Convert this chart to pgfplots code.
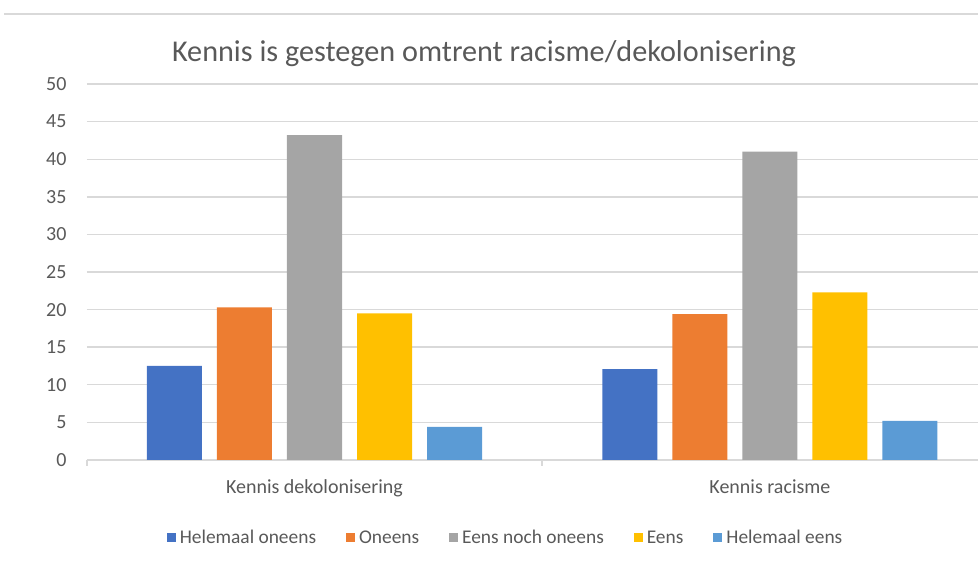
\documentclass[border=0pt]{standalone}
\usepackage{pgfplots}
\pgfplotsset{compat=1.18}
\usepackage{fontspec}
\setmainfont{Carlito}
\definecolor{c1}{HTML}{4472C4}
\definecolor{c2}{HTML}{ED7D31}
\definecolor{c3}{HTML}{A5A5A5}
\definecolor{c4}{HTML}{FFC000}
\definecolor{c5}{HTML}{5B9BD5}
\definecolor{gridc}{HTML}{D9D9D9}
\definecolor{txt}{HTML}{595959}
\begin{document}
\begin{tikzpicture}
\useasboundingbox (0,0) rectangle (489pt,280.5pt);
\draw[gridc, line width=1pt] (2pt,273.5pt) -- (489pt,273.5pt);
\node[anchor=base, text=txt, font=\fontsize{15.1}{17}\selectfont] at (242pt,249.5pt) {Kennis is gestegen omtrent racisme/dekolonisering};
\begin{axis}[
  at={(43.4pt,50.5pt)}, anchor=south west,
  scale only axis, width=445.6pt, height=188pt,
  xmin=-0.5, xmax=1.457, ymin=0, ymax=50,
  ytick distance=5,
  xtick={0,1}, xticklabels={Kennis dekolonisering, Kennis racisme},
  axis y line*=left,
  y axis line style={draw=none},
  axis x line*=bottom,
  x axis line style={draw=gridc, line width=0.7pt},
  ymajorgrids, grid style={draw=gridc, line width=0.7pt},
  major tick length=0pt,
  extra x ticks={-0.5,0.5}, extra x tick labels={},
  extra x tick style={major tick length=3pt, tick align=outside, tick style={draw=gridc, line width=0.7pt}, grid=none},
  tick label style={font=\fontsize{10}{12}\selectfont, text=txt},
  /pgf/number format/assume math mode=true,
  yticklabel style={anchor=east, inner sep=0pt, xshift=-10pt},
  xticklabel style={anchor=base, inner sep=0pt, yshift=-16.5pt},
  ybar, bar width=27.5pt,
  legend columns=5,
  legend style={at={(0.471,-0.2074)}, anchor=center, draw=none, fill=none,
    font=\fontsize{9.7}{11}\selectfont, text=txt,
    /tikz/every even column/.append style={column sep=13pt},
    nodes={inner xsep=2pt, text height=1.45ex, text depth=0.25ex}},
  legend image code/.code={\fill[#1] (0pt,-2.25pt) rectangle (4.5pt,2.25pt);},
]
\addplot[fill=c1, draw=none, bar shift=-70pt] coordinates {(0,12.5) (1,12.1)};
\addplot[fill=c2, draw=none, bar shift=-35pt] coordinates {(0,20.3) (1,19.4)};
\addplot[fill=c3, draw=none, bar shift=0pt] coordinates {(0,43.2) (1,41.0)};
\addplot[fill=c4, draw=none, bar shift=35pt] coordinates {(0,19.5) (1,22.3)};
\addplot[fill=c5, draw=none, bar shift=70pt] coordinates {(0,4.4) (1,5.2)};
\legend{Helemaal oneens, Oneens, Eens noch oneens, Eens, Helemaal eens}
\end{axis}
\end{tikzpicture}
\end{document}
